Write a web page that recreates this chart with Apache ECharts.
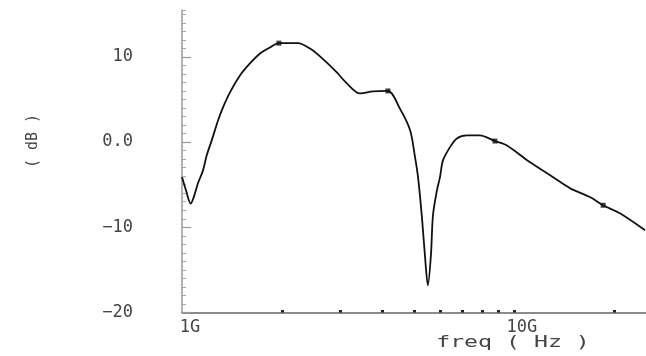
<!DOCTYPE html>
<html>
<head>
<meta charset="utf-8">
<script src="https://cdn.jsdelivr.net/npm/echarts@6/dist/echarts.min.js"></script>
<style>html,body{margin:0;padding:0;background:#fff;}#c{width:646px;height:356px;}</style>
</head>
<body>
<div id="c"></div>
<script>
// frequency in GHz and gain in dB
const freqGHz = [1.000, 1.028, 1.062, 1.087, 1.117, 1.157, 1.187, 1.229, 1.284, 1.329, 1.395, 1.495, 1.602, 1.718, 1.841, 1.959, 2.235, 2.430, 2.605, 2.928, 3.139, 3.436, 3.760, 4.172, 4.538, 4.867, 5.037, 5.143, 5.283, 5.393, 5.506, 5.623, 5.703, 5.863, 5.986, 6.112, 6.413, 6.731, 7.215, 7.890, 8.767, 9.526, 11.19, 12.86, 14.78, 16.99, 18.57, 20.86, 24.84];
const gainDb = [-4.10, -5.66, -7.22, -6.37, -4.84, -3.32, -1.56, 0.20, 2.54, 4.07, 5.83, 7.82, 9.23, 10.40, 11.10, 11.61, 11.61, 10.98, 10.05, 8.17, 6.88, 5.71, 5.94, 6.00, 3.90, 1.40, -1.79, -4.14, -8.83, -13.28, -16.80, -13.28, -8.59, -5.66, -4.14, -2.15, -0.62, 0.43, 0.79, 0.79, 0.12, -0.39, -2.38, -3.90, -5.43, -6.48, -7.42, -8.36, -10.35];
const markerGHz = [1.959, 4.172, 8.767, 18.57];
const markerDb = [11.61, 6.00, 0.12, -7.42];
const yLabelValues = [-20, -10, 0, 10];
const yLabelTexts = ['\u221220', '\u221210', '0.0', '10'];
const xLabelValues = [1, 10];
const xLabelTexts = ['1G', '10G'];
const xMinorTicks = [2, 3, 4, 5, 6, 7, 8, 9, 10, 20];
const xName = 'freq ( Hz )';
const yName = '( dB )';

const font = 'DejaVu Sans Mono';
const chart = echarts.init(document.getElementById('c'), null, {renderer: 'canvas'});
chart.setOption({
  animation: false,
  backgroundColor: '#fff',
  grid: {left: 182, right: 0, top: 10, bottom: 43.5, containLabel: false},
  xAxis: {
    type: 'log', logBase: 10, min: 1, max: 25,
    axisLine: {onZero: false, lineStyle: {color: '#666', width: 1.5}},
    axisTick: {show: true, inside: true, length: 2.5, customValues: xMinorTicks, lineStyle: {color: '#222', width: 3}},
    axisLabel: {
      customValues: xLabelValues,
      formatter: v => xLabelTexts[xLabelValues.indexOf(Math.round(v))] || '',
      fontFamily: font, fontSize: 17, color: '#444', margin: 7,
      padding: [0, 0, 0, 16]
    },
    splitLine: {show: false}
  },
  yAxis: [{
    type: 'value', min: -20, max: 15.5, interval: 1,
    axisLine: {show: true, onZero: false, lineStyle: {color: '#999', width: 1.5}},
    axisTick: {show: true, inside: true, length: 4, lineStyle: {color: '#aaa', width: 1}},
    axisLabel: {
      customValues: yLabelValues,
      formatter: v => yLabelTexts[yLabelValues.indexOf(Math.round(v))] || '',
      fontFamily: font, fontSize: 17, color: '#444', margin: 49,
      padding: [0, 0, 10, 0]
    },
    splitLine: {show: false}
  }, {
    type: 'value', min: -20, max: 15.5, position: 'left', offset: 0,
    axisLine: {show: false, onZero: false},
    axisTick: {show: true, inside: true, length: 9, customValues: yLabelValues, lineStyle: {color: '#999', width: 1.2}},
    axisLabel: {show: false},
    splitLine: {show: false}
  }],
  graphic: [
    {type: 'text', x: 33, y: 141, rotation: Math.PI / 2,
     style: {text: yName, font: '15px "' + font + '"', fill: '#444', align: 'center', verticalAlign: 'middle'}},
    {type: 'text', x: 513, y: 343, scaleX: 1.45,
     style: {text: xName, font: '16px "' + font + '"', fill: '#444', align: 'center', verticalAlign: 'middle'}}
  ],
  series: [{
    type: 'line',
    data: freqGHz.map((f, i) => [f, gainDb[i]]),
    showSymbol: false,
    smooth: 0.3,
    lineStyle: {color: '#111', width: 1.8},
    silent: true
  }, {
    type: 'scatter',
    data: markerGHz.map((f, i) => [f, markerDb[i]]),
    symbol: 'rect', symbolSize: 5,
    itemStyle: {color: '#111'},
    silent: true
  }]
});
</script>
</body>
</html>
